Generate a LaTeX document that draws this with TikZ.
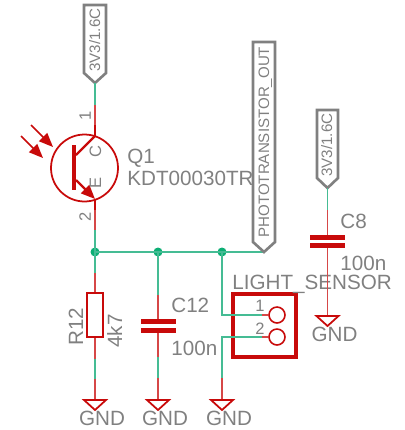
\documentclass[tikz,border=0pt]{standalone}
\usepackage{fontspec}
\setmainfont{Liberation Sans}
\usetikzlibrary{arrows.meta}

\definecolor{symred}{HTML}{C80A0A}
\definecolor{netgreen}{HTML}{45BC94}
\definecolor{dotgreen}{HTML}{0CAE74}
\definecolor{labelgray}{HTML}{808080}

\tikzset{
  wire/.style={draw=netgreen, line width=0.85pt},
  pin/.style={draw=symred!75!white, line width=0.85pt},
  leg/.style={draw=symred, line width=0.9pt},
  plate/.style={fill=symred, draw=none},
  junction/.style={circle, fill=dotgreen, inner sep=0pt, minimum size=0.18cm},
  port/.style={draw=labelgray, line width=1.5pt, line join=miter},
  lbl/.style={text=labelgray, inner sep=0pt, font=\fontsize{11.75}{13}\selectfont},
  small/.style={text=labelgray, inner sep=0pt, font=\fontsize{8.6}{10}\selectfont},
  num/.style={text=labelgray, inner sep=0pt, font=\fontsize{9.4}{11}\selectfont},
  head/.style={-{Triangle[length=8pt, width=6.5pt]}},
}

\begin{document}
\begin{tikzpicture}[x=0.02cm, y=-0.02cm]
\useasboundingbox (0, 0) rectangle (405, 430);

% supply port and phototransistor
\draw[port] (84, 5) -- (106, 5) -- (106, 73) -- (95, 83) coordinate (t1) -- (84, 73) -- cycle;
\node[small, rotate=90, anchor=base west] (v1) at (100, 72) {3V3/1.6C};
\draw[wire] (t1) -- +(0, 22) coordinate (a);
\draw[pin] (a) -- +(0, 20) coordinate (b);
\draw[leg, line width=1.5pt] (b) -- +(0, 11) coordinate (c);
\node[draw=symred, line width=1pt, circle, inner sep=0pt, minimum size=1.34cm] (q1) at (84.5, 168) {};
\draw[symred, line width=2.4pt] (74, 145) -- (74, 190);
\draw[leg, line width=1.3pt] (c) -- (76, 155);
\coordinate (e) at (95, 199);
\draw[symred, line width=1.3pt, head] (76, 180) -- (e);
\draw[leg, line width=1.5pt] (e) -- +(0, 11) coordinate (a);
\draw[pin] (a) -- +(0, 20) coordinate (b);
\draw[symred, line width=1pt, head] (31, 125) -- (53, 147);
\draw[symred, line width=1pt, head] (21, 136) -- (43, 158);
\node[num, rotate=90, anchor=base west] (n1) at (91, 121) {1};
\node[num, rotate=90, anchor=base west] (n2) at (91, 222) {2};
\node[num, rotate=90, anchor=base west] (lc) at (101, 158) {C};
\node[num, rotate=90, anchor=base west] (le) at (101, 189) {E};
\node[lbl, anchor=base west] (q1name) at (127, 163) {Q1};
\node[lbl, anchor=base west] (q1value) at (127, 185) {KDT00030TR};

% main net
\node[junction] (j1) at (95, 252) {};
\node[junction] (j2) at (158, 252) {};
\node[junction] (j3) at (222, 252) {};
\coordinate (t2) at (264, 252);
\draw[wire] (b) -- (j1.center);
\draw[wire] (j1.center) -- (j2.center);
\draw[wire] (j2.center) -- (j3.center);
\draw[wire] (j3.center) -- (t2);
\draw[port] (t2) -- (253, 242) -- (253, 42) -- (275, 42) -- (275, 242) -- cycle;
\node[small, rotate=90, anchor=base west] (v2) at (269, 238) {PHOTOTRANSISTOR\_OUT};

% R12
\node[draw=symred, line width=1pt, inner sep=0pt, minimum width=0.31cm, minimum height=0.88cm] (r12) at (95, 315) {};
\draw[wire] (j1.center) -- +(0, 21) coordinate (a);
\draw[pin] (a) -- (r12.north);
\draw[pin] (r12.south) -- +(0, 21) coordinate (a);
\draw[wire] (a) -- +(0, 20) coordinate (b);
\draw[pin] (b) -- (95, 400) coordinate (g1);
\node[lbl, rotate=90, anchor=base west] (r12name) at (83, 346) {R12};
\node[lbl, rotate=90, anchor=base west] (r12value) at (122, 348) {4k7};

% C12
\coordinate (c1) at (158, 319);
\coordinate (c2) at (158, 333);
\draw[wire] (j2.center) -- +(0, 43) coordinate (a);
\draw[pin] (a) -- (c1);
\fill[plate] (141, 319) rectangle (176, 324);
\fill[plate] (141, 328) rectangle (176, 333);
\draw[pin] (c2) -- +(0, 24) coordinate (a);
\draw[wire] (a) -- +(0, 21) coordinate (b);
\draw[pin] (b) -- (158, 400) coordinate (g2);
\node[lbl, anchor=base west] (c12name) at (171, 312) {C12};
\node[lbl, anchor=base west] (c12value) at (171, 355) {100n};

% connector
\node[draw=symred, line width=2.3pt, inner sep=0pt, minimum width=1.25cm, minimum height=1.25cm] (x1) at (264.5, 325.5) {};
\node[draw=symred, line width=0.9pt, circle, inner sep=0pt, minimum size=0.32cm] (p1) at (277, 315) {};
\node[draw=symred, line width=0.9pt, circle, inner sep=0pt, minimum size=0.32cm] (p2) at (277, 337) {};
\draw[wire] (j3.center) -- (222, 315) coordinate (a) -- (262, 315) coordinate (b);
\draw[pin] (b) -- (p1.west);
\coordinate (d) at (262, 337);
\draw[pin] (d) -- (p2.west);
\draw[wire] (d) -- (222, 337) -- (222, 378) coordinate (a);
\draw[pin] (a) -- (222, 400) coordinate (g3);
\node[num, anchor=base west] (n3) at (255, 311) {1};
\node[num, anchor=base west] (n4) at (255, 334) {2};
\node[lbl, anchor=base west] (x1name) at (232, 289) {LIGHT\_SENSOR};

% supply port and C8
\draw[port] (317, 110) -- (338, 110) -- (338, 178) -- (327.5, 188) coordinate (t3) -- (317, 178) -- cycle;
\node[small, rotate=90, anchor=base west] (v3) at (332, 177) {3V3/1.6C};
\draw[wire] (t3) -- +(0, 22) coordinate (a);
\coordinate (c3) at (327.5, 235);
\coordinate (c4) at (327.5, 248);
\draw[pin] (a) -- (c3);
\fill[plate] (310, 235) rectangle (345, 240);
\fill[plate] (310, 243) rectangle (345, 248);
\draw[pin] (c4) -- (327.5, 316) coordinate (g4);
\node[lbl, anchor=base west] (c8name) at (340, 228) {C8};
\node[lbl, anchor=base west] (c8value) at (340, 270) {100n};

% ground symbols
\foreach \g/\x/\y in {g1/95/400, g2/158/400, g3/222/400, g4/327.5/316} {
  \draw[symred, line width=1pt] (\g) -- +(-11, 0) -- +(0, 10) -- +(11, 0) -- cycle;
  \node[lbl, anchor=base] (\g name) at (\x+7, \y+25) {GND};
}
\end{tikzpicture}
\end{document}
